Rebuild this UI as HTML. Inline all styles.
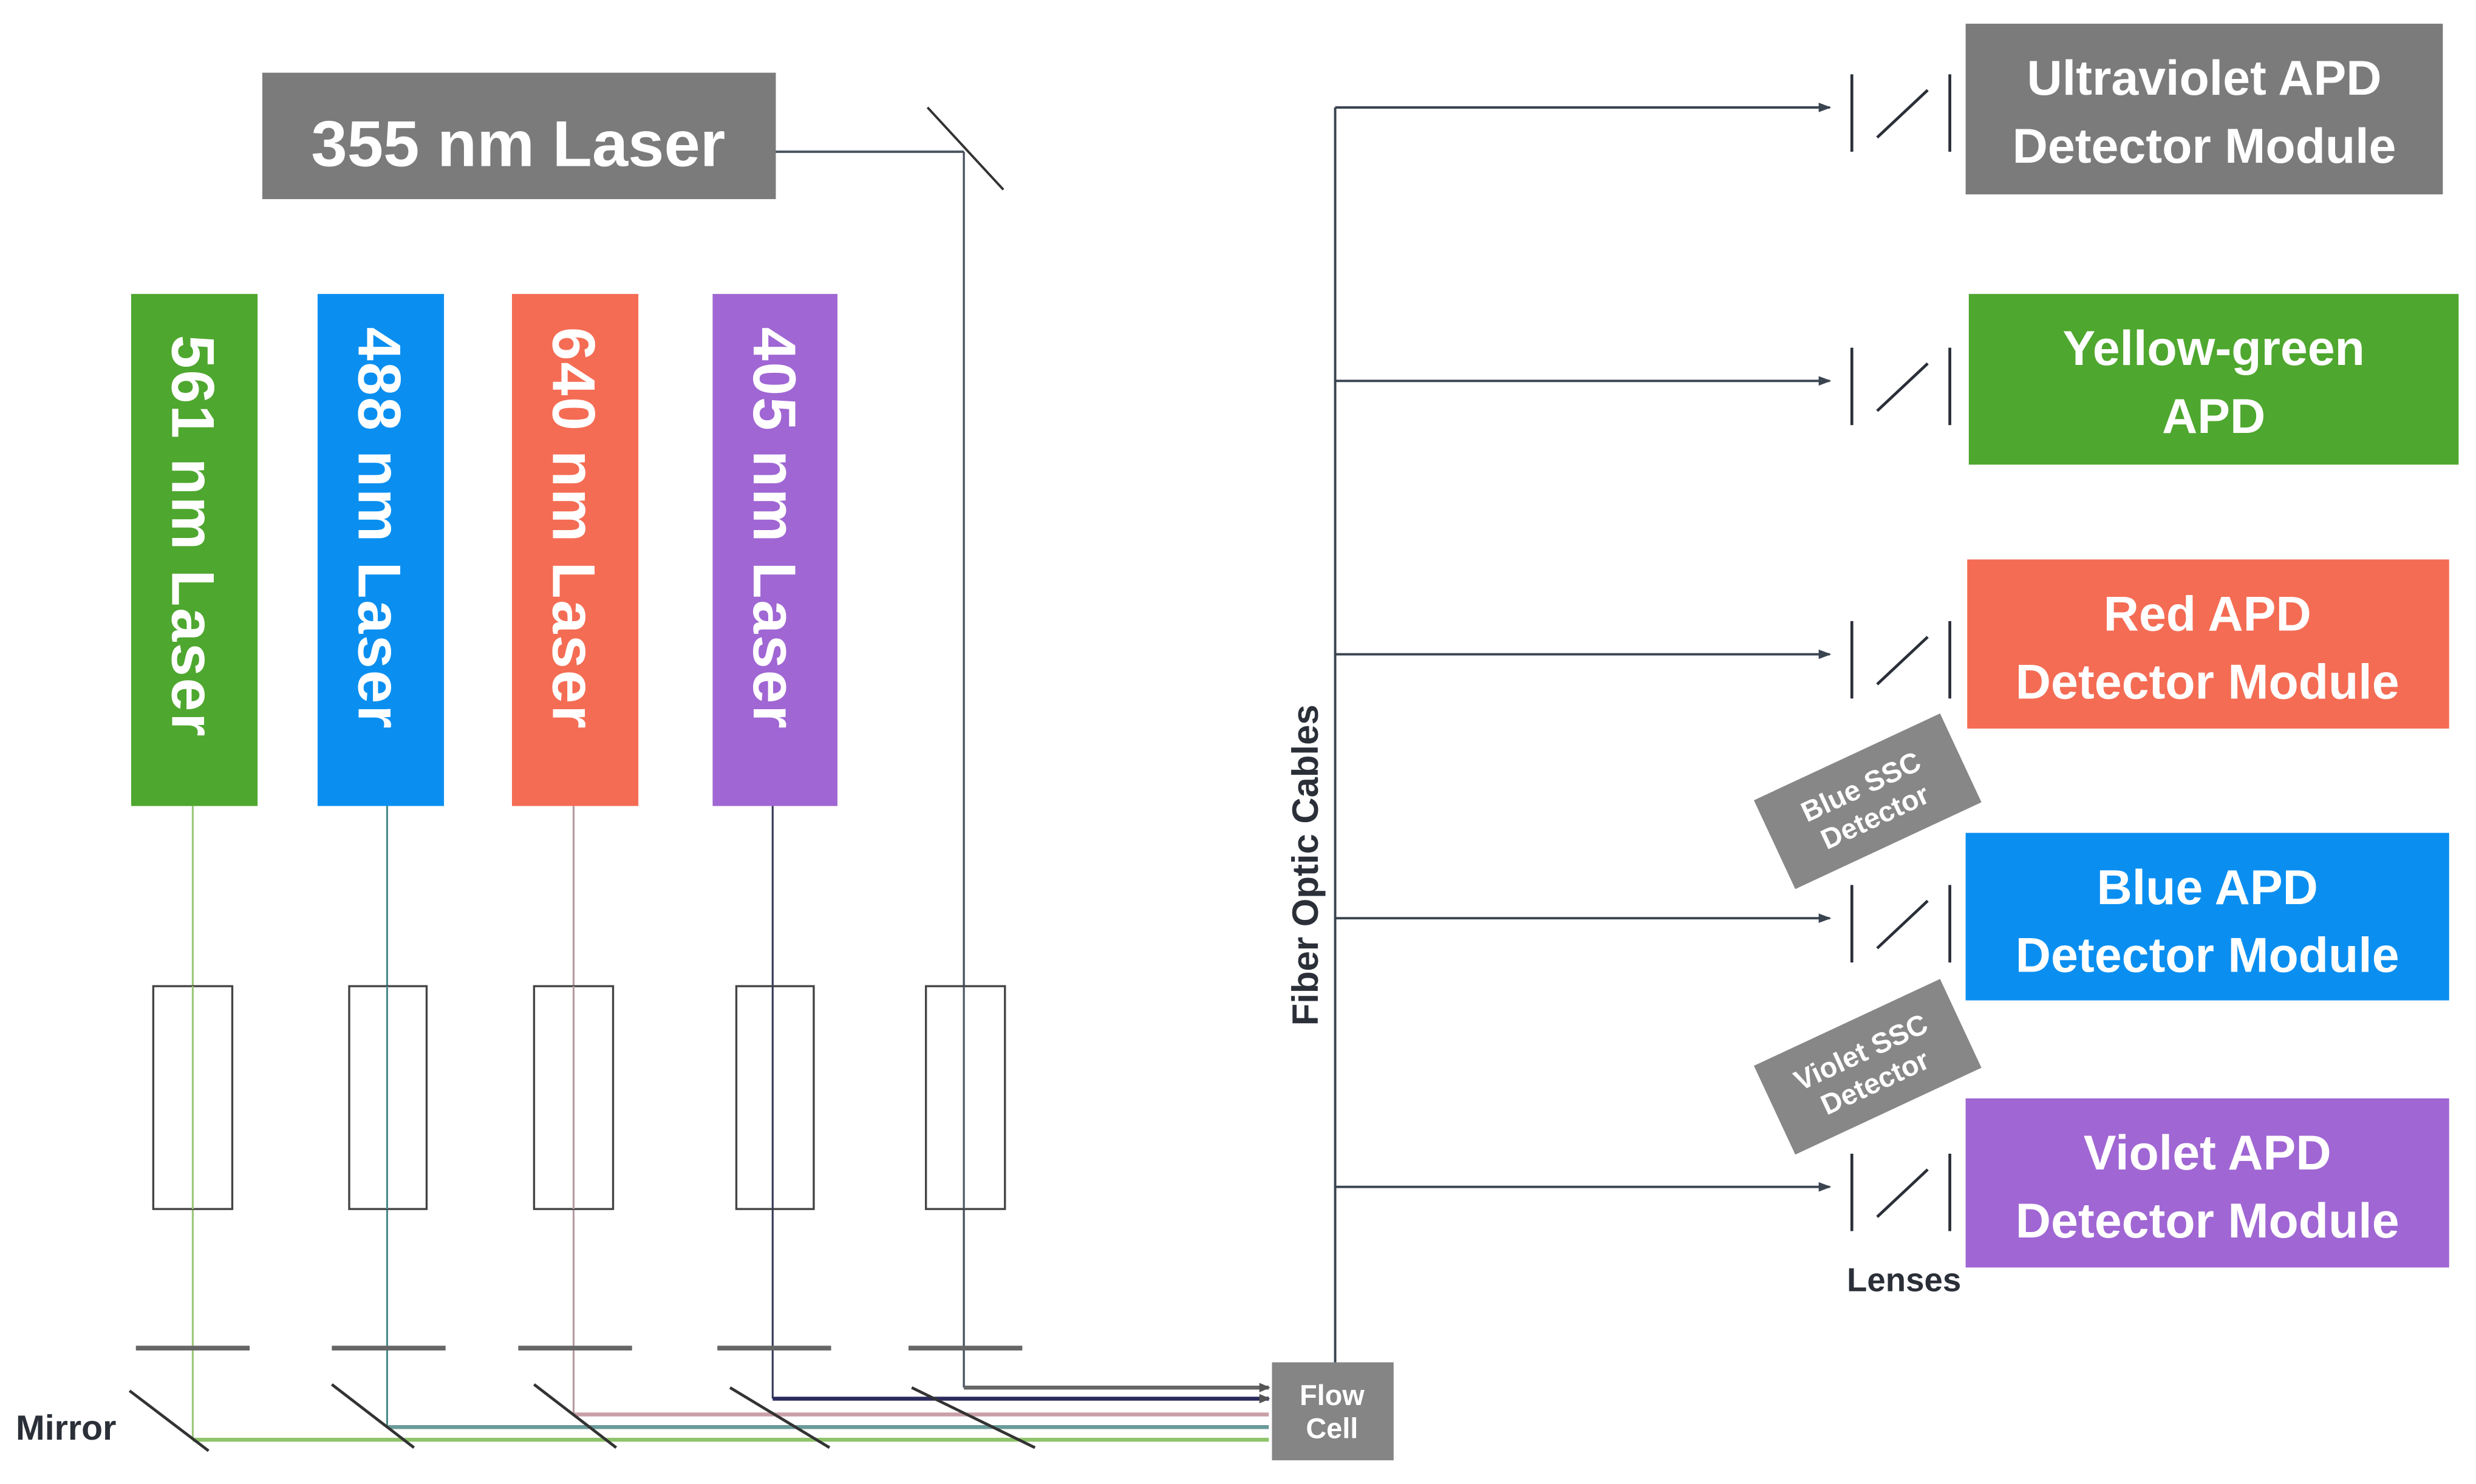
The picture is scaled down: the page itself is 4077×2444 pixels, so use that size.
<!DOCTYPE html>
<html><head><meta charset="utf-8"><style>
html,body{margin:0;padding:0;background:#fff;}
svg{display:block;}
text{font-family:"Liberation Sans",sans-serif;font-weight:bold;}
</style></head><body>
<svg width="4077" height="2444" viewBox="0 0 1567 939" preserveAspectRatio="none" xmlns="http://www.w3.org/2000/svg">
<defs>
<marker id="ah" markerWidth="8" markerHeight="8" refX="7" refY="4" orient="auto" markerUnits="userSpaceOnUse"><path d="M0,1 L8,4 L0,7 Z" fill="#3a4450"/></marker>
<marker id="ahg" markerWidth="7" markerHeight="7" refX="6" refY="3.5" orient="auto" markerUnits="userSpaceOnUse"><path d="M0,0.5 L7,3.5 L0,6.5 Z" fill="#555"/></marker>
</defs>
<rect x="166" y="46" width="325" height="80" fill="#7b7b7b"/>
<text x="328" y="105" font-size="41" fill="#fff" text-anchor="middle">355 nm Laser</text>
<line x1="491" y1="96" x2="610" y2="96" stroke="#4a5560" stroke-width="1.5"/>
<line x1="587" y1="68" x2="635" y2="120" stroke="#333" stroke-width="1.5"/>
<line x1="610" y1="96" x2="610" y2="878" stroke="#4a5560" stroke-width="1.3"/>

<rect x="83" y="186" width="80" height="324" fill="#4ea72e"/>
<rect x="201" y="186" width="80" height="324" fill="#0a8ff0"/>
<rect x="324" y="186" width="80" height="324" fill="#f46c54"/>
<rect x="451" y="186" width="79" height="324" fill="#a066d3"/>
<g font-size="38" fill="#fff" letter-spacing="1">
<text transform="translate(109,212) rotate(90)">561 nm Laser</text>
<text transform="translate(227,207) rotate(90)">488 nm Laser</text>
<text transform="translate(350,207) rotate(90)">640 nm Laser</text>
<text transform="translate(477,207) rotate(90)">405 nm Laser</text>
</g>

<line x1="122" y1="510" x2="122" y2="911" stroke="#9cc77a" stroke-width="1.2"/>
<line x1="245" y1="510" x2="245" y2="903" stroke="#4a8a8a" stroke-width="1.2"/>
<line x1="363" y1="510" x2="363" y2="895" stroke="#b79aa0" stroke-width="1.2"/>
<line x1="489" y1="510" x2="489" y2="885" stroke="#353a5a" stroke-width="1.2"/>

<g fill="#fff" stroke="#444" stroke-width="1.3">
<rect x="97" y="624" width="50" height="141"/>
<rect x="221" y="624" width="49" height="141"/>
<rect x="338" y="624" width="50" height="141"/>
<rect x="466" y="624" width="49" height="141"/>
<rect x="586" y="624" width="50" height="141"/>
</g>
<line x1="122" y1="624" x2="122" y2="765" stroke="#9cc77a" stroke-width="1.2"/>
<line x1="245" y1="624" x2="245" y2="765" stroke="#4a8a8a" stroke-width="1.2"/>
<line x1="363" y1="624" x2="363" y2="765" stroke="#b79aa0" stroke-width="1.2"/>
<line x1="489" y1="624" x2="489" y2="765" stroke="#353a5a" stroke-width="1.2"/>
<line x1="610" y1="624" x2="610" y2="765" stroke="#4a5560" stroke-width="1.2"/>

<g stroke="#666" stroke-width="3">
<line x1="86" y1="853" x2="158" y2="853"/>
<line x1="210" y1="853" x2="282" y2="853"/>
<line x1="328" y1="853" x2="400" y2="853"/>
<line x1="454" y1="853" x2="526" y2="853"/>
<line x1="575" y1="853" x2="647" y2="853"/>
</g>

<line x1="610" y1="878" x2="803" y2="878" stroke="#666" stroke-width="2.5" marker-end="url(#ahg)"/>
<line x1="489" y1="885" x2="803" y2="885" stroke="#2a2a5e" stroke-width="2.5" marker-end="url(#ahg)"/>
<line x1="363" y1="895" x2="803" y2="895" stroke="#c9a0a8" stroke-width="2.5"/>
<line x1="245" y1="903" x2="803" y2="903" stroke="#6a9a9a" stroke-width="2.5"/>
<line x1="122" y1="911" x2="803" y2="911" stroke="#8fc46a" stroke-width="2.5"/>

<g stroke="#333" stroke-width="1.8">
<line x1="82" y1="880" x2="132" y2="918"/>
<line x1="210" y1="876" x2="262" y2="916"/>
<line x1="338" y1="876" x2="390" y2="916"/>
<line x1="462" y1="878" x2="525" y2="916"/>
<line x1="577" y1="878" x2="655" y2="916"/>
</g>
<text x="10" y="911" font-size="22" fill="#2a2f38">Mirror</text>

<rect x="805" y="862" width="77" height="62" fill="#858585"/>
<text x="843" y="889" font-size="18" fill="#fff" text-anchor="middle">Flow</text>
<text x="843" y="910" font-size="18" fill="#fff" text-anchor="middle">Cell</text>
<line x1="845" y1="68" x2="845" y2="862" stroke="#3a4450" stroke-width="1.5"/>
<text transform="translate(834,649) rotate(-90)" font-size="23" fill="#2a2f38">Fiber Optic Cables</text>

<g stroke="#3a4450" stroke-width="1.5">
<line x1="845" y1="68" x2="1158" y2="68" marker-end="url(#ah)"/>
<line x1="845" y1="241" x2="1158" y2="241" marker-end="url(#ah)"/>
<line x1="845" y1="414" x2="1158" y2="414" marker-end="url(#ah)"/>
<line x1="845" y1="581" x2="1158" y2="581" marker-end="url(#ah)"/>
<line x1="845" y1="751" x2="1158" y2="751" marker-end="url(#ah)"/>
</g>
<g stroke="#2a2f38" stroke-width="1.8">
<line x1="1172" y1="47" x2="1172" y2="96"/><line x1="1188" y1="87" x2="1220" y2="57"/><line x1="1234" y1="47" x2="1234" y2="96"/>
<line x1="1172" y1="220" x2="1172" y2="269"/><line x1="1188" y1="260" x2="1220" y2="230"/><line x1="1234" y1="220" x2="1234" y2="269"/>
<line x1="1172" y1="393" x2="1172" y2="442"/><line x1="1188" y1="433" x2="1220" y2="403"/><line x1="1234" y1="393" x2="1234" y2="442"/>
<line x1="1172" y1="560" x2="1172" y2="609"/><line x1="1188" y1="600" x2="1220" y2="570"/><line x1="1234" y1="560" x2="1234" y2="609"/>
<line x1="1172" y1="730" x2="1172" y2="779"/><line x1="1188" y1="770" x2="1220" y2="740"/><line x1="1234" y1="730" x2="1234" y2="779"/>
</g>
<text x="1205" y="817" font-size="21" fill="#2a2f38" text-anchor="middle">Lenses</text>

<g font-size="31" fill="#fff" text-anchor="middle">
<rect x="1244" y="15" width="302" height="108" fill="#7b7b7b"/>
<text x="1395" y="60">Ultraviolet APD</text><text x="1395" y="103">Detector Module</text>
<rect x="1246" y="186" width="310" height="108" fill="#4ea72e"/>
<text x="1401" y="231">Yellow-green</text><text x="1401" y="274">APD</text>
<rect x="1245" y="354" width="305" height="107" fill="#f46c54"/>
<text x="1397" y="399">Red APD</text><text x="1397" y="442">Detector Module</text>
<rect x="1244" y="527" width="306" height="106" fill="#0a8ff0"/>
<text x="1397" y="572">Blue APD</text><text x="1397" y="615">Detector Module</text>
<rect x="1244" y="695" width="306" height="107" fill="#a066d3"/>
<text x="1397" y="740">Violet APD</text><text x="1397" y="783">Detector Module</text>
</g>

<g transform="translate(1182,507) rotate(-25)">
<rect x="-65" y="-31" width="130" height="62" fill="#878787"/>
<text x="0" y="-4" font-size="18" fill="#fff" text-anchor="middle">Blue SSC</text>
<text x="0" y="17" font-size="18" fill="#fff" text-anchor="middle">Detector</text>
</g>
<g transform="translate(1182,675) rotate(-25)">
<rect x="-65" y="-31" width="130" height="62" fill="#878787"/>
<text x="0" y="-4" font-size="18" fill="#fff" text-anchor="middle">Violet SSC</text>
<text x="0" y="17" font-size="18" fill="#fff" text-anchor="middle">Detector</text>
</g>
</svg>
</body></html>
